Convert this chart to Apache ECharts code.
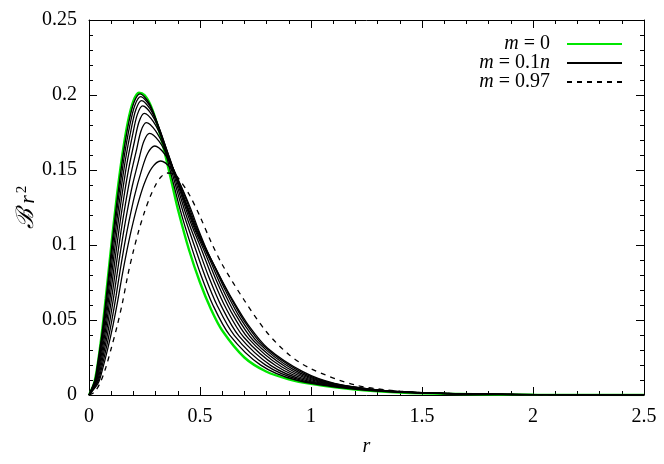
<!DOCTYPE html>
<html>
<head>
<meta charset="utf-8">
<script src="https://cdn.jsdelivr.net/npm/echarts@6/dist/echarts.min.js"></script>
<style>
  html, body { margin: 0; padding: 0; background: #fff; }
  #chart { width: 664px; height: 464px; }
</style>
</head>
<body>
<div id="chart"></div>
<script>
// r samples for the m = 0 and m = 0.97 curves
var rGrid = [0, 0.025, 0.05, 0.075, 0.1, 0.125, 0.15, 0.175, 0.2, 0.225, 0.25, 0.275, 0.3, 0.325, 0.35, 0.375, 0.4, 0.45, 0.5, 0.55, 0.6, 0.7, 0.8, 0.9, 1.0, 1.2, 1.4, 1.6, 2.0, 2.5];
var mZero = [0, 0.009, 0.032, 0.064, 0.099, 0.132, 0.160, 0.182, 0.196, 0.2015, 0.200, 0.194, 0.184, 0.171, 0.156, 0.140, 0.124, 0.097, 0.075, 0.057, 0.043, 0.025, 0.0155, 0.0105, 0.0075, 0.0036, 0.0017, 0.0008, 0.0002, 0.00005];
var m097 = [0, 0.002, 0.008, 0.018, 0.031, 0.045, 0.061, 0.080, 0.096, 0.110, 0.122, 0.132, 0.140, 0.1455, 0.148, 0.1478, 0.145, 0.134, 0.119, 0.102, 0.087, 0.063, 0.042, 0.027, 0.0175, 0.0066, 0.0026, 0.0011, 0.0002, 0.00003];

// m = 0.1n, n = 1..9, as [r, value]
var m01 = [[0,0],[0.0268,0.0100],[0.0381,0.0201],[0.0578,0.0401],[0.0739,0.0602],[0.0887,0.0803],[0.1034,0.1004],[0.1189,0.1204],[0.1357,0.1405],[0.1543,0.1606],[0.1776,0.1806],[0.2016,0.1947],[0.230,0.2007],[0.2701,0.1947],[0.3085,0.1806],[0.347,0.1606],[0.3813,0.1405],[0.4165,0.1204],[0.4578,0.1004],[0.5032,0.0803],[0.5574,0.0602],[0.6328,0.0401],[0.7719,0.0201],[0.932,0.0100],[1.191,0.0040],[1.475,0.0014],[2.007,0.0002],[2.5,0.00004]];
var m02 = [[0,0],[0.0279,0.0099],[0.0396,0.0199],[0.0599,0.0398],[0.0764,0.0597],[0.0917,0.0796],[0.1066,0.0995],[0.1225,0.1193],[0.1397,0.1392],[0.1589,0.1591],[0.1828,0.1790],[0.2059,0.1929],[0.233,0.1989],[0.2732,0.1929],[0.3135,0.1790],[0.3543,0.1591],[0.3911,0.1392],[0.4295,0.1193],[0.4747,0.0995],[0.5217,0.0796],[0.5774,0.0597],[0.6544,0.0398],[0.7959,0.0199],[0.9538,0.0099],[1.2078,0.0040],[1.4885,0.0014],[2.015,0.0002],[2.5,0.00004]];
var m03 = [[0,0],[0.0292,0.0098],[0.0414,0.0196],[0.0623,0.0392],[0.0795,0.0589],[0.0953,0.0785],[0.1106,0.0981],[0.1268,0.1177],[0.1445,0.1373],[0.1643,0.1570],[0.1891,0.1766],[0.2112,0.1903],[0.237,0.1962],[0.2774,0.1903],[0.3195,0.1766],[0.3624,0.1570],[0.4014,0.1373],[0.4427,0.1177],[0.4915,0.0981],[0.5401,0.0785],[0.5973,0.0589],[0.6759,0.0392],[0.8198,0.0196],[0.9756,0.0098],[1.2242,0.0039],[1.5015,0.0014],[2.023,0.0002],[2.5,0.00004]];
var m04 = [[0,0],[0.0307,0.0096],[0.0435,0.0193],[0.0651,0.0385],[0.0832,0.0578],[0.0995,0.0771],[0.1152,0.0964],[0.1318,0.1156],[0.1502,0.1349],[0.1707,0.1542],[0.1964,0.1734],[0.2175,0.1869],[0.242,0.1927],[0.2826,0.1869],[0.3263,0.1734],[0.3712,0.1542],[0.4123,0.1349],[0.4562,0.1156],[0.5084,0.0964],[0.5586,0.0771],[0.6172,0.0578],[0.6974,0.0385],[0.8437,0.0193],[0.9973,0.0096],[1.2406,0.0039],[1.5145,0.0013],[2.031,0.0002],[2.5,0.00004]];
var m05 = [[0,0],[0.0324,0.0094],[0.0458,0.0188],[0.0684,0.0376],[0.0873,0.0563],[0.1043,0.0751],[0.1204,0.0939],[0.1376,0.1127],[0.1566,0.1315],[0.1780,0.1502],[0.2047,0.1690],[0.2254,0.1822],[0.249,0.1878],[0.2899,0.1822],[0.3350,0.1690],[0.3815,0.1502],[0.4242,0.1315],[0.4702,0.1127],[0.5253,0.0939],[0.5771,0.0751],[0.6371,0.0563],[0.7189,0.0376],[0.8676,0.0188],[1.0191,0.0094],[1.257,0.0038],[1.5276,0.0013],[2.039,0.0002],[2.5,0.00004]];
var m06 = [[0,0],[0.0343,0.0091],[0.0485,0.0182],[0.0721,0.0363],[0.0919,0.0545],[0.1097,0.0726],[0.1263,0.0908],[0.1441,0.1090],[0.1638,0.1271],[0.1861,0.1453],[0.2141,0.1634],[0.2346,0.1762],[0.258,0.1816],[0.2993,0.1762],[0.3454,0.1634],[0.3932,0.1453],[0.4371,0.1271],[0.4849,0.1090],[0.5422,0.0908],[0.5956,0.0726],[0.6570,0.0545],[0.7404,0.0363],[0.8915,0.0182],[1.0408,0.0091],[1.2734,0.0036],[1.5406,0.0013],[2.047,0.0002],[2.5,0.00004]];
var m07 = [[0,0],[0.0364,0.0087],[0.0515,0.0174],[0.0761,0.0349],[0.0971,0.0523],[0.1157,0.0698],[0.1329,0.0872],[0.1513,0.1046],[0.1718,0.1221],[0.1952,0.1395],[0.2246,0.1570],[0.2472,0.1692],[0.273,0.1744],[0.3151,0.1692],[0.3613,0.1570],[0.4094,0.1395],[0.4532,0.1221],[0.5012,0.1046],[0.5591,0.0872],[0.6141,0.0698],[0.6770,0.0523],[0.7620,0.0349],[0.9155,0.0174],[1.0626,0.0087],[1.2898,0.0035],[1.5537,0.0012],[2.055,0.0002],[2.5,0.00004]];
var m08 = [[0,0],[0.0388,0.0083],[0.0548,0.0166],[0.0806,0.0332],[0.1028,0.0498],[0.1224,0.0664],[0.1401,0.0830],[0.1592,0.0996],[0.1807,0.1162],[0.2052,0.1328],[0.2360,0.1494],[0.2639,0.1610],[0.296,0.1660],[0.3391,0.1610],[0.3843,0.1494],[0.4313,0.1328],[0.4734,0.1162],[0.5199,0.0996],[0.5759,0.0830],[0.6325,0.0664],[0.6969,0.0498],[0.7835,0.0332],[0.9394,0.0166],[1.0844,0.0083],[1.3062,0.0033],[1.5667,0.0012],[2.063,0.0002],[2.5,0.00004]];
var m09 = [[0,0],[0.0411,0.0078],[0.0581,0.0156],[0.0851,0.0312],[0.1085,0.0468],[0.1290,0.0624],[0.1473,0.0780],[0.1672,0.0936],[0.1895,0.1092],[0.2152,0.1248],[0.2475,0.1404],[0.2824,0.1513],[0.323,0.1560],[0.3674,0.1513],[0.4109,0.1404],[0.4563,0.1248],[0.4958,0.1092],[0.5397,0.0936],[0.5928,0.0780],[0.6510,0.0624],[0.7168,0.0468],[0.8050,0.0312],[0.9633,0.0156],[1.1061,0.0078],[1.3226,0.0031],[1.5797,0.0011],[2.071,0.0002],[2.5,0.00004]];

var xTicks = [0, 0.5, 1, 1.5, 2, 2.5];
var yTicks = [0, 0.05, 0.1, 0.15, 0.2, 0.25];

var FONT = 'Liberation Serif, serif';

function pairs(xs, ys) {
    var out = [];
    for (var i = 0; i < xs.length; i++) out.push([xs[i], ys[i]]);
    return out;
}

var richText = {
    i: { fontFamily: FONT, fontSize: 20, fontStyle: 'italic', color: '#000' },
    t: { fontFamily: FONT, fontSize: 20, color: '#000' },
    g: { width: 12 }
};
var legendLabels = {
    'm = 0': '{i|m}{t| = 0}{g|}',
    'm = 0.1n': '{i|m}{t| = 0.1}{i|n}{g|}',
    'm = 0.97': '{i|m}{t| = 0.97}{g|}'
};

function makeLegend(name, top) {
    return {
        data: [name],
        right: 36,
        top: top,
        align: 'right',
        itemWidth: 55,
        itemHeight: 14,
        selectedMode: false,
        itemStyle: { opacity: 0 },
        formatter: function (n) { return legendLabels[n]; },
        textStyle: { fontFamily: FONT, fontSize: 20, color: '#000', rich: richText }
    };
}

function axisCommon(min, max, interval, showLabel) {
    return {
        type: 'value',
        min: min,
        max: max,
        interval: interval,
        axisLine: { show: true, onZero: false, lineStyle: { color: '#000', width: 1 } },
        axisTick: { show: true, inside: true, length: 8, lineStyle: { color: '#000' } },
        minorTick: { show: true, splitNumber: 5, length: 4, lineStyle: { color: '#000' } },
        splitLine: { show: false },
        axisLabel: { show: showLabel, color: '#000', fontFamily: FONT, fontSize: 20, margin: 12 }
    };
}

var xMain = axisCommon(xTicks[0], xTicks[xTicks.length - 1], 0.5, true);
xMain.position = 'bottom';
xMain.name = 'r';
xMain.nameLocation = 'middle';
xMain.nameGap = 42;
xMain.nameMoveOverlap = false;
xMain.nameTextStyle = { fontFamily: FONT, fontSize: 20, fontStyle: 'italic', color: '#000' };
var xTop = axisCommon(xTicks[0], xTicks[xTicks.length - 1], 0.5, false);
xTop.position = 'top';

var yMain = axisCommon(yTicks[0], yTicks[yTicks.length - 1], 0.05, true);
yMain.position = 'left';
yMain.name = '{b|ℬ}{r| r}{s|2}';
yMain.nameLocation = 'middle';
yMain.nameGap = 50;
yMain.nameMoveOverlap = false;
yMain.nameTextStyle = {
    color: '#000',
    rich: {
        b: { fontFamily: FONT, fontSize: 24, fontStyle: 'italic', color: '#000', verticalAlign: 'bottom' },
        r: { fontFamily: FONT, fontSize: 22, fontStyle: 'italic', color: '#000', verticalAlign: 'bottom' },
        s: { fontFamily: FONT, fontSize: 15, color: '#000', verticalAlign: 'top', padding: [0, 0, 0, 2] }
    }
};
yMain.axisLabel.formatter = function (v) { return String(Number(v.toFixed(2))); };
var yRight = axisCommon(yTicks[0], yTicks[yTicks.length - 1], 0.05, false);
yRight.position = 'right';

var series = [];
series.push({
    name: 'm = 0', type: 'line', xAxisIndex: 0, yAxisIndex: 0,
    data: pairs(rGrid, mZero), symbol: 'none', smooth: 0.3,
    lineStyle: { color: '#00e600', width: 2.4 }, itemStyle: { color: '#00e600' }, z: 2
});
var blacks = [m01, m02, m03, m04, m05, m06, m07, m08, m09];
for (var k = 0; k < blacks.length; k++) {
    series.push({
        name: 'm = 0.1n', type: 'line', xAxisIndex: 0, yAxisIndex: 0,
        data: blacks[k], symbol: 'none', smooth: 0.3,
        lineStyle: { color: '#000', width: 1.3 }, itemStyle: { color: '#000' }, z: 3
    });
}
series.push({
    name: 'm = 0.97', type: 'line', xAxisIndex: 0, yAxisIndex: 0,
    data: pairs(rGrid, m097), symbol: 'none', smooth: 0.3,
    lineStyle: { color: '#000', width: 1.3, type: [5, 5] }, itemStyle: { color: '#000' }, z: 3
});

var chart = echarts.init(document.getElementById('chart'), null, { renderer: 'canvas' });
chart.setOption({
    backgroundColor: '#fff',
    animation: false,
    grid: { left: 89, right: 20, top: 20, bottom: 69, containLabel: false },
    legend: [makeLegend('m = 0', 29), makeLegend('m = 0.1n', 48), makeLegend('m = 0.97', 67)],
    xAxis: [xMain, xTop],
    yAxis: [yMain, yRight],
    series: series
});
</script>
</body>
</html>
